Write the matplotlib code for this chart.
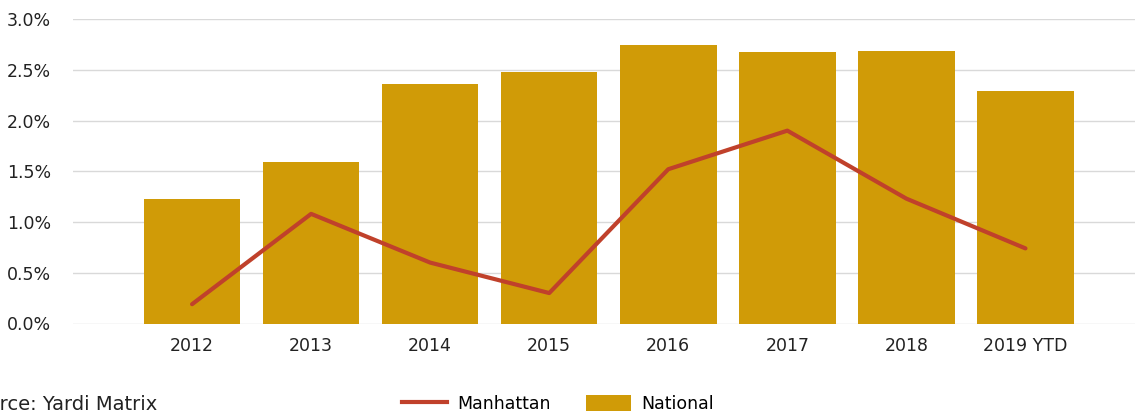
import matplotlib
matplotlib.use("Agg")
import matplotlib.pyplot as plt
from matplotlib.lines import Line2D
from matplotlib.patches import Patch
from matplotlib.ticker import FuncFormatter

categories = ["2012", "2013", "2014", "2015", "2016", "2017", "2018", "2019 YTD"]
national = [1.23, 1.59, 2.36, 2.48, 2.74, 2.67, 2.68, 2.29]
manhattan = [0.19, 1.08, 0.60, 0.30, 1.52, 1.90, 1.23, 0.74]
yticks = [0.0, 0.5, 1.0, 1.5, 2.0, 2.5, 3.0]

plt.rcParams['font.family'] = ['DejaVu Sans']

W, H = 1135, 412
fig = plt.figure(figsize=(W / 100, H / 100), dpi=100)
ax = fig.add_axes([73 / W, 1 - 323.5 / H, (W - 73) / W, (323.5 - 19) / H])

x = list(range(len(categories)))
ax.bar(x, national, width=0.81, color="#D09B07", zorder=2)
ax.plot(x, manhattan, color="#C0412B", lw=3, solid_capstyle="round", zorder=3)

ax.set_ylim(0, 3.0)
ax.set_xlim(-1.0, 7.92)
ax.set_yticks(yticks)
ax.yaxis.set_major_formatter(FuncFormatter(lambda v, p: f"{v:.1f}%"))
ax.set_xticks(x)
ax.set_xticklabels(categories)
ax.grid(axis="y", color="#D9D9D9", lw=1, zorder=0)
ax.set_axisbelow(True)
for s in ax.spines.values():
    s.set_visible(False)
ax.tick_params(axis="both", length=0, labelsize=12.5, colors="#222222")
ax.tick_params(axis="y", pad=16)
ax.tick_params(axis="x", pad=10)

# Source text, with "Sou" cut off at the left edge as in the reference
fig.canvas.draw()
r = fig.canvas.get_renderer()
tmp = fig.text(0, 0, "Sou", fontsize=14)
wpx = tmp.get_window_extent(renderer=r).width
tmp.remove()
fig.text(-wpx / W, 1 - 404 / H, "Source: Yardi Matrix", fontsize=14, color="#222222",
         va="center", ha="left")

handles = [Line2D([0], [0], color="#C0412B", lw=3),
           Patch(facecolor="#D09B07")]
fig.legend(handles, ["Manhattan", "National"], loc="center",
           bbox_to_anchor=(558 / W, 1 - 404 / H), ncol=2, frameon=False,
           fontsize=12.5, handlelength=2.6, handleheight=1.0, columnspacing=2.0,
           handletextpad=0.6)

fig.savefig("out.png", dpi=100)
